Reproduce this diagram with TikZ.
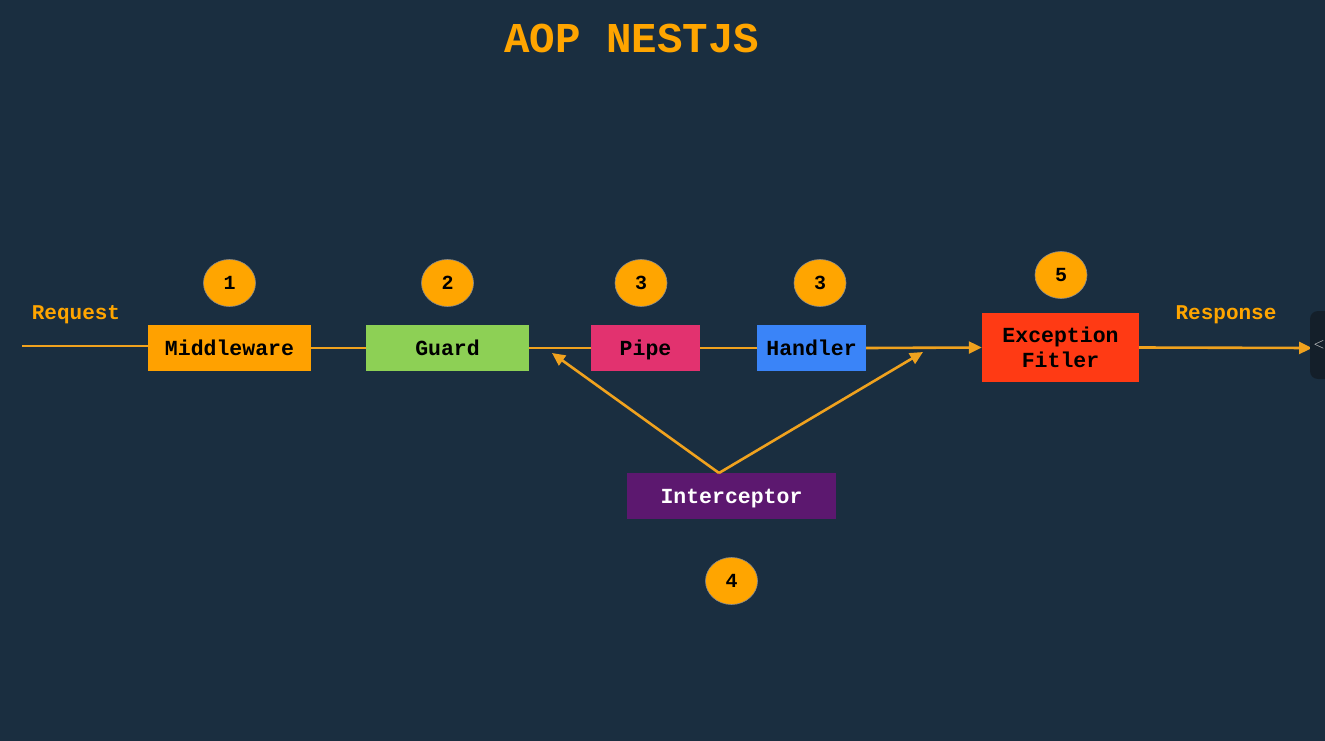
\documentclass[tikz,border=0pt]{standalone}
\usepackage{fontspec}
\setmonofont{Liberation Mono}
\usetikzlibrary{arrows.meta,shapes.geometric}
\definecolor{bg}{HTML}{1A2E40}
\definecolor{org}{HTML}{FFA500}
\definecolor{lineorg}{HTML}{F0A21E}
\definecolor{mwc}{HTML}{FFA100}
\definecolor{guardc}{HTML}{8DD055}
\definecolor{pipec}{HTML}{E2326F}
\definecolor{handc}{HTML}{3A84F8}
\definecolor{excc}{HTML}{FF3A14}
\definecolor{intc}{HTML}{5C186F}
\definecolor{tabc}{HTML}{141F2A}
\begin{document}
\begin{tikzpicture}[x=1pt,y=-1pt,
  box/.style={rectangle,inner sep=0pt,font=\ttfamily\bfseries\fontsize{21.5}{25}\selectfont,text=black,align=center},
  onebox/.style={box,minimum height=46pt,text height=14pt,text depth=0pt},
  badge/.style={ellipse,fill=org,draw=black!45,line width=0.6pt,minimum width=52pt,minimum height=47pt,inner sep=0pt,font=\ttfamily\bfseries\fontsize{20}{22}\selectfont,text=black},
  lbl/.style={font=\ttfamily\bfseries\fontsize{21}{24}\selectfont,text=org},
  flow/.style={draw=lineorg,line width=2.6pt},
  arr/.style={flow,-{Triangle[length=13pt,width=12pt]}}
]
\useasboundingbox (0,0) rectangle (1325,741);
\fill[bg] (0,0) rectangle (1325,741);

\node[font=\ttfamily\bfseries\fontsize{42.5}{46}\selectfont,text=org] (title) at (632,38) {AOP NESTJS};

\node[onebox,fill=mwc,minimum width=163pt] (mw) at (229.5,348) {Middleware};
\node[onebox,fill=guardc,minimum width=163pt] (guard) at (447.5,348) {Guard};
\node[onebox,fill=pipec,minimum width=109pt] (pipe) at (645.5,348) {Pipe};
\node[onebox,fill=handc,minimum width=109pt] (hand) at (811.5,348) {Handler};
\node[box,fill=excc,minimum width=157pt,minimum height=69pt] (exc) at (1060.5,347.5) {Exception\\Fitler};
\node[onebox,fill=intc,text=white,minimum width=209pt] (int) at (731.5,496) {Interceptor};

\node[badge] (b1) at (229.5,283) {1};
\node[badge] (b2) at (447.5,283) {2};
\node[badge] (b3a) at (641,283) {3};
\node[badge] (b3b) at (820,283) {3};
\node[badge] (b5) at (1061,275) {5};
\node[badge] (b4) at (731.5,581) {4};

\node[lbl] (req) at (76,315) {Request};
\node[lbl] (resp) at (1226,315) {Response};

\coordinate (start) at (22,346);
\coordinate (end) at (1312,348);
\coordinate (apex) at (719,473);
\coordinate (ltip) at (552,353);
\coordinate (rtip) at (923,352);

\draw[flow] (start) -- (start -| mw.west);
\draw[flow] (mw.east) -- (guard.west);
\draw[flow] (guard.east) -- (pipe.west);
\draw[flow] (pipe.east) -- (hand.west);
\draw[arr] (hand.east) -- (exc.west);
\draw[arr] (exc.east) -- (end);
\draw[arr] (apex) -- (ltip);
\draw[arr] (apex) -- (rtip);

\node[rectangle,rounded corners=8pt,fill=tabc,minimum width=34pt,minimum height=68pt,font=\sffamily\fontsize{15}{15}\selectfont,text=white!85!black] (tab) at (1327,345) {\hspace*{-16pt}<};
\end{tikzpicture}
\end{document}
